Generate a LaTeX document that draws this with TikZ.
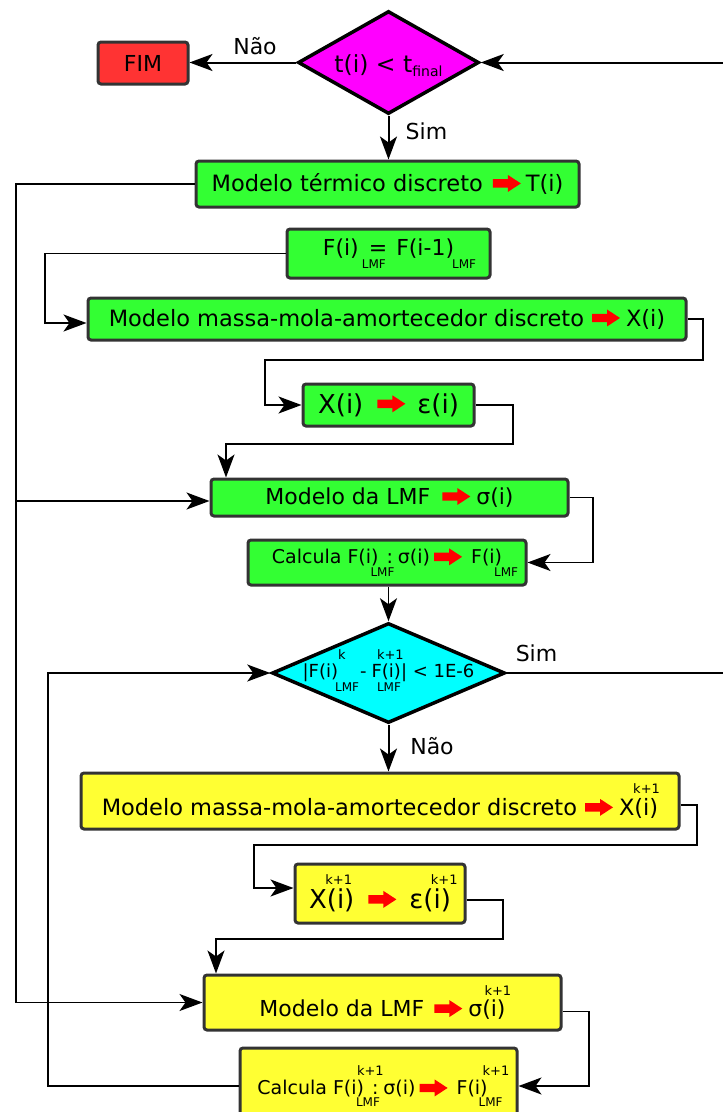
\documentclass[tikz,border=0pt]{standalone}
\usepackage{fontspec}
\setmainfont{DejaVu Sans}
\usetikzlibrary{shapes.geometric,arrows.meta}
\definecolor{gfill}{RGB}{51,255,51}
\definecolor{yfill}{RGB}{255,255,51}
\definecolor{rfill}{RGB}{255,51,51}
\definecolor{mfill}{RGB}{255,0,255}
\definecolor{cfill}{RGB}{0,255,255}
\definecolor{bord}{RGB}{51,51,51}
\definecolor{arrred}{RGB}{255,0,0}
\newcommand{\fsz}[1]{\fontsize{#1}{#1}\selectfont}
\newcommand{\redarr}{\tikz[baseline={(0pt,-0.36em)},sharp corners]\fill[arrred] (0pt,-4.2pt) -- (15pt,-4.2pt) -- (15pt,-8.5pt) -- (28pt,0pt) -- (15pt,8.5pt) -- (15pt,4.2pt) -- (0pt,4.2pt) -- cycle;}
\newcommand{\scup}[3]{\rlap{\kern#1\raise#2\hbox{\fsz{13}#3}}}
\newcommand{\scdn}[3]{\rlap{\kern#1\lower#2\hbox{\fsz{12}#3}}}
\begin{document}
\begin{tikzpicture}[x=1pt,y=-1pt,
  box/.style={draw=bord,line width=3pt,rounded corners=3pt,inner sep=0pt},
  gbox/.style={box,fill=gfill},
  ybox/.style={box,fill=yfill},
  dec/.style={diamond,draw=black,line width=3.5pt,inner sep=0pt},
  conn/.style={line width=1.5pt,-{Stealth[length=23pt,width=17pt,inset=6pt]}},
  connb/.style={conn,line width=2pt},
  wire/.style={line width=2pt},
  lbl/.style={inner sep=0pt,font=\fsz{22}}]
\useasboundingbox (0,0) rectangle (723,1112);
\clip (0,0) rectangle (723,1112);
\fill[white] (0,0) rectangle (723,1112);

% nodes
\node[box,fill=rfill,minimum width=90pt,minimum height=42pt] (fim) at (143,63) {\fsz{22}FIM};
\node[dec,fill=mfill,minimum width=181pt,minimum height=103pt] (d1) at (388.5,62.5)
  {\smash{\makebox[0pt]{\raisebox{-9.5pt}{\fsz{23.5}t(i) < t\raisebox{-4pt}{\fsz{14}final}}}}};
\node[gbox,minimum width=383pt,minimum height=46pt] (b1) at (387.5,184)
  {\fsz{22.5}Modelo térmico discreto\hspace{10pt}\redarr\hspace{5pt}T(i)};
\node[gbox,minimum width=203pt,minimum height=49pt] (b2) at (388.5,253.5)
  {\fsz{22}F(i)\scdn{3pt}{13pt}{LMF}\hspace{10pt}=\hspace{9pt}F(i-1)\scdn{-2pt}{13pt}{LMF}\hspace{22pt}};
\node[gbox,minimum width=598pt,minimum height=42pt] (b3) at (387,319)
  {\fsz{22.5}Modelo massa-mola-amortecedor discreto\hspace{8pt}\redarr\hspace{6pt}X(i)};
\node[gbox,minimum width=171pt,minimum height=42pt] (b4) at (388.5,405)
  {\fsz{26}X(i)\hspace{14pt}\redarr\hspace{12pt}ε(i)};
\node[gbox,minimum width=357pt,minimum height=37pt] (b5) at (389.5,497.5)
  {\fsz{22}Modelo da LMF\hspace{12pt}\redarr\hspace{6pt}σ(i)};
\node[gbox,minimum width=278pt,minimum height=45pt] (b6) at (387,562.5)
  {\fsz{19}Calcula F(i)\scdn{-8pt}{13pt}{LMF}\hspace{8pt}:\hspace{5pt}σ(i)\hspace{4pt}\redarr\hspace{9pt}F(i)\scdn{-8pt}{13pt}{LMF}};
\node[dec,fill=cfill,minimum width=233pt,minimum height=100pt] (d2) at (388.5,673)
  {\smash{\makebox[0pt]{\raisebox{-4pt}{\fsz{18}|F(i)\scup{0pt}{18pt}{k}\scdn{-3pt}{14pt}{LMF}\hspace{22pt}-\hspace{5pt}F(i)\scup{-24pt}{18pt}{k+1}\scdn{-24pt}{14pt}{LMF}| < 1E-6}}}};
\node[ybox,minimum width=598pt,minimum height=56pt] (b7) at (380,801)
  {\fsz{22.5}Modelo massa-mola-amortecedor discreto\hspace{8pt}\redarr\hspace{6pt}X(i)\scup{-25pt}{22pt}{k+1}};
\node[ybox,minimum width=170pt,minimum height=59pt] (b8) at (380,893.5)
  {\fsz{26}X(i)\scup{-29pt}{24pt}{k+1}\hspace{14pt}\redarr\hspace{13pt}ε(i)\scup{-20pt}{24pt}{k+1}};
\node[ybox,minimum width=357pt,minimum height=55pt] (b9) at (382.5,1002.5)
  {\fsz{22}Modelo da LMF\hspace{10pt}\redarr\hspace{6pt}σ(i)\scup{-21pt}{21pt}{k+1}};
\node[ybox,minimum width=277pt,minimum height=76pt] (b10) at (378.5,1086)
  {\fsz{19}Calcula F(i)\scup{-7pt}{19.7pt}{k+1}\scdn{-8pt}{12pt}{LMF}\hspace{8pt}:\hspace{5pt}σ(i)\hspace{4pt}\redarr\hspace{9pt}F(i)\scup{-5pt}{19.7pt}{k+1}\scdn{-9pt}{12pt}{LMF}\kern12pt};

% labels
\node[lbl] (lnao1) at (255,46) {Não};
\node[lbl] (lsim1) at (426.5,131.6) {Sim};
\node[lbl] (lsim2) at (536.5,653.6) {Sim};
\node[lbl] (lnao2) at (432,746.2) {Não};

\coordinate (e1) at (723,62.5);
\coordinate (e2) at (723,673);

% connectors
\draw[connb] (d1.west) -- (d1.west -| fim.east);
\draw[connb] (e1) -- (d1.east);
\draw[connb] (d1.south) -- (d1.south |- b1.north);
\draw[conn] (b1.west) -- (b1.west -| 16,0) |- (b9.west);
\draw[conn] ([yshift=-3.5pt]b5.west -| 16,0) -- ([yshift=-3.5pt]b5.west);
\draw[conn] (b2.west) -- (b2.west -| 45,0) |- ([yshift=-4pt]b3.west);
\draw[conn] (b3.east) -| (703,360) -- (265,360) |- (b4.west);
\draw[conn] (b4.east) -| (513,444) -- (226,444) -- (b5.north -| 226,0);
\draw[conn] (b5.east) -- (b5.east -| 593,0) |- (b6.east);
\draw[conn] (b6.south -| d2.north) -- (d2.north);
\draw[wire] (d2.east) -- (e2);
\draw[connb] (d2.south) -- (d2.south |- b7.north);
\draw[conn] ([yshift=-4pt]b7.east) -| (697,845) -- (254,845) |- ([yshift=5.5pt]b8.west);
\draw[conn] ([yshift=-6.5pt]b8.east) -| (503,939) -- (216,939) -- (b9.north -| 216,0);
\draw[conn] ([yshift=-9pt]b9.east) -| (589,1086) -- (b10.east);
\draw[conn] (b10.west) -- (b10.west -| 48,0) |- (d2.west);
\end{tikzpicture}
\end{document}
